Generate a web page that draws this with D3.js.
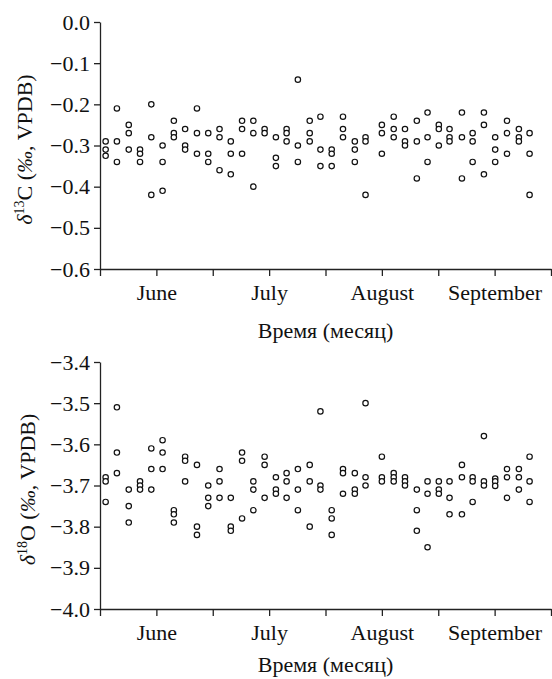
<!DOCTYPE html>
<html>
<head>
<meta charset="utf-8">
<script src="https://cdn.jsdelivr.net/npm/d3@7"></script>
<style>
  body { margin: 0; background: #fff; }
  text { font-family: "Liberation Serif", "Times New Roman", serif; fill: #111; }
</style>
</head>
<body>
<div id="chart"></div>
<script>
// sampling dates, in months counted from 1 June
var sampleMonth = [0.05, 0.15, 0.255, 0.355, 0.455, 0.555, 0.655, 0.755, 0.86, 0.96,
    1.06, 1.16, 1.26, 1.36, 1.46, 1.56, 1.655, 1.755, 1.86, 1.955,
    2.055, 2.155, 2.26, 2.355, 2.50, 2.605, 2.705, 2.81, 2.905, 3.005,
    3.10, 3.21, 3.305, 3.405, 3.505, 3.61, 3.715, 3.81];

var monthNames = ["June", "July", "August", "September"];

// d13C values per sampling date
var d13C = [
    [-0.29, -0.31, -0.325], [-0.21, -0.29, -0.34], [-0.25, -0.27, -0.31], [-0.31, -0.32, -0.34],
    [-0.20, -0.28, -0.42], [-0.30, -0.34, -0.41], [-0.24, -0.27, -0.28], [-0.26, -0.30, -0.31],
    [-0.21, -0.27, -0.32], [-0.27, -0.32, -0.34], [-0.26, -0.28, -0.36], [-0.29, -0.32, -0.37],
    [-0.24, -0.26, -0.32], [-0.24, -0.27, -0.40], [-0.26, -0.27], [-0.28, -0.33, -0.35],
    [-0.26, -0.27, -0.29], [-0.14, -0.30, -0.34], [-0.24, -0.27, -0.29], [-0.23, -0.31, -0.35],
    [-0.31, -0.32, -0.35], [-0.23, -0.26, -0.28], [-0.29, -0.31, -0.34], [-0.28, -0.29, -0.42],
    [-0.25, -0.27, -0.32], [-0.23, -0.26, -0.28], [-0.26, -0.29, -0.30], [-0.24, -0.29, -0.38],
    [-0.22, -0.28, -0.34], [-0.25, -0.26, -0.30], [-0.26, -0.28, -0.29], [-0.22, -0.28, -0.38],
    [-0.27, -0.29, -0.34], [-0.22, -0.25, -0.37], [-0.28, -0.31, -0.34], [-0.24, -0.27, -0.32],
    [-0.26, -0.28, -0.29], [-0.27, -0.32, -0.42]
];

// d18O values per sampling date
var d18O = [
    [-3.68, -3.69, -3.74], [-3.51, -3.62, -3.67], [-3.71, -3.75, -3.79], [-3.69, -3.70, -3.71],
    [-3.61, -3.66, -3.71], [-3.59, -3.62, -3.66], [-3.76, -3.77, -3.79], [-3.63, -3.64, -3.69],
    [-3.65, -3.80, -3.82], [-3.70, -3.73, -3.75], [-3.66, -3.69, -3.73], [-3.73, -3.80, -3.81],
    [-3.62, -3.64, -3.78], [-3.69, -3.71, -3.76], [-3.63, -3.65, -3.73], [-3.68, -3.71, -3.72],
    [-3.67, -3.69, -3.73], [-3.66, -3.71, -3.76], [-3.65, -3.69, -3.80], [-3.52, -3.70, -3.71],
    [-3.76, -3.78, -3.82], [-3.66, -3.67, -3.72], [-3.67, -3.71, -3.72], [-3.50, -3.68, -3.70],
    [-3.63, -3.68, -3.69], [-3.67, -3.68, -3.69], [-3.68, -3.69, -3.70], [-3.71, -3.76, -3.81],
    [-3.69, -3.72, -3.85], [-3.69, -3.71, -3.72], [-3.69, -3.73, -3.77], [-3.65, -3.68, -3.77],
    [-3.68, -3.69, -3.74], [-3.58, -3.69, -3.70], [-3.683, -3.69, -3.701], [-3.66, -3.68, -3.73],
    [-3.66, -3.68, -3.71], [-3.63, -3.69, -3.74]
];

var d13CTicks = [0.0, -0.1, -0.2, -0.3, -0.4, -0.5, -0.6];
var d18OTicks = [-3.4, -3.5, -3.6, -3.7, -3.8, -3.9, -4.0];

var width = 552, height = 679;
var fontSize = 22;
var serif = "Liberation Serif";

var svg = d3.select("#chart")
    .append("svg")
    .attr("width", width)
    .attr("height", height);

// shared time scale, ticks every half month, labels mid-month
var x = d3.scaleLinear().domain([0, 4]).range([100, 551]);

function flatten(values) {
    var pts = [];
    for (var i = 0; i < values.length; i++) {
        for (var j = 0; j < values[i].length; j++) {
            pts.push({m: sampleMonth[i], v: values[i][j]});
        }
    }
    return pts;
}

function panel(values, ticks, top, bottom, labelX, titleDy, iso) {
    var y = d3.scaleLinear().domain([ticks[0], ticks[ticks.length - 1]]).range([top, bottom]);
    var g = svg.append("g");

    var yAxis = d3.axisLeft(y)
        .tickValues(ticks)
        .tickFormat(d3.format(".1f"))
        .tickSize(6)
        .tickSizeOuter(0)
        .tickPadding(4);

    g.append("g")
        .attr("transform", "translate(" + x(0) + ",0)")
        .call(yAxis)
        .attr("font-family", serif)
        .attr("font-size", fontSize);

    var xAxis = d3.axisBottom(x)
        .tickValues(d3.range(0, 4.01, 0.5))
        .tickFormat(function (d) {
            return (d % 1 === 0.5) ? monthNames[Math.floor(d)] : "";
        })
        .tickSize(7)
        .tickSizeOuter(0)
        .tickPadding(8);

    g.append("g")
        .attr("transform", "translate(0," + bottom + ")")
        .call(xAxis)
        .attr("font-family", serif)
        .attr("font-size", fontSize);

    g.selectAll(".tick text")
        .attr("fill", "#111");
    g.selectAll(".domain, .tick line")
        .attr("stroke", "#222")
        .attr("stroke-width", 1.3);

    // axis titles
    g.append("text")
        .attr("x", (x.range()[0] + x.range()[1]) / 2)
        .attr("y", bottom + titleDy)
        .attr("text-anchor", "middle")
        .attr("font-family", serif)
        .style("font-size", fontSize + "px")
        .text("Время (месяц)");

    var yl = g.append("text")
        .attr("transform", "translate(" + labelX + "," + ((top + bottom) / 2 + 4) + ") rotate(-90)")
        .attr("text-anchor", "middle")
        .attr("font-family", serif)
        .style("font-size", fontSize + "px");
    yl.append("tspan").style("font-style", "italic").text("δ");
    yl.append("tspan").attr("dy", -8).style("font-size", "14px").text(iso);
    yl.append("tspan").attr("dy", 8).text(iso === "13" ? "C (" : "O (");
    yl.append("tspan").style("font-style", "italic").text("‰");
    yl.append("tspan").text(", VPDB)");

    g.selectAll("circle")
        .data(flatten(values))
        .enter()
        .append("circle")
        .attr("cx", function (d) { return x(d.m); })
        .attr("cy", function (d) { return y(d.v); })
        .attr("r", 2.7)
        .attr("fill", "white")
        .attr("stroke", "#111")
        .attr("stroke-width", 1.2);
}

panel(d13C, d13CTicks, 22, 269, 32, 69, "13");
panel(d18O, d18OTicks, 362, 609, 35, 63, "18");
</script>
</body>
</html>
